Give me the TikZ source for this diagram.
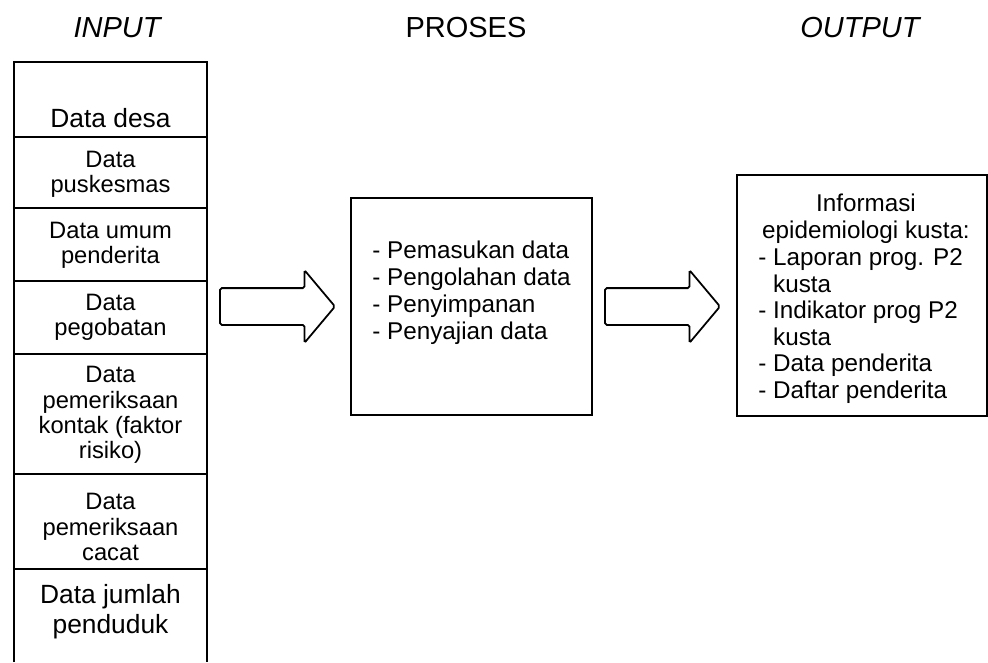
\documentclass[tikz,border=0pt]{standalone}
\usepackage{fontspec}
\setmainfont{Liberation Sans}
\usetikzlibrary{shapes.arrows}
\tikzset{
	ttl/.style = {font=\fontsize{16.5}{19}\selectfont, inner sep=0pt},
	cel/.style = {font=\fontsize{13.5}{14.4}\selectfont, align=center, inner sep=0pt},
	bigcel/.style = {font=\fontsize{15}{17}\selectfont, align=center, inner sep=0pt},
	lst/.style = {font=\fontsize{13.8}{15.3}\selectfont, align=left, inner sep=0pt},
	frame/.style = {draw, line width=1pt, inner sep=0pt},
	blk/.style = {single arrow, draw, line width=1pt, inner sep=0pt,
		text height=0.7cm, text depth=0pt, text width=0pt,
		minimum height=2.3cm, rounded corners=1pt,
		single arrow head extend=0.36cm, single arrow tip angle=100},
}

\begin{document}
\begin{tikzpicture}[line join=miter]
	\useasboundingbox (0,0) rectangle (19.76,-13.24);
	
	%% titles
	\node[ttl] (tin)  at (2.34,-0.56) {\itshape INPUT};
	\node[ttl] (tpro) at (9.32,-0.56) {PROSES};
	\node[ttl] (tout) at (17.2,-0.56) {\itshape OUTPUT};
	
	%% input column (open at the bottom)
	\draw[line width=1pt] (0.28,-13.24) |- (4.14,-1.24) -- (4.14,-13.24);
	\draw[line width=1pt] (0.28,-2.74)  -- (4.14,-2.74);
	\draw[line width=1pt] (0.28,-4.16)  -- (4.14,-4.16);
	\draw[line width=1pt] (0.28,-5.62)  -- (4.14,-5.62);
	\draw[line width=1pt] (0.28,-7.08)  -- (4.14,-7.08);
	\draw[line width=1pt] (0.28,-9.48)  -- (4.14,-9.48);
	\draw[line width=1pt] (0.28,-11.38) -- (4.14,-11.38);
	
	\node[bigcel] (desa)   at (2.21,-2.36)  {Data desa};
	\node[cel]    (pusk)   at (2.21,-3.48)  {Data\\puskesmas};
	\node[cel]    (umum)   at (2.21,-4.90)  {Data umum\\penderita};
	\node[cel]    (obat)   at (2.21,-6.34)  {Data\\pegobatan};
	\node[cel]    (kontak) at (2.21,-8.30)  {Data\\pemeriksaan\\kontak (faktor\\risiko)};
	\node[cel]    (cacat)  at (2.21,-10.54) {Data\\pemeriksaan\\cacat};
	\node[bigcel] (jumlah) at (2.21,-12.24) {Data jumlah\\penduduk};
	
	%% process box
	\node[frame, minimum width=4.82cm, minimum height=4.34cm] (proses) at (9.43,-6.13) {};
	\node[lst] (prolist) at (9.43,-5.85)
	{- Pemasukan data\\- Pengolahan data\\- Penyimpanan\\- Penyajian data};
	
	%% output box
	\node[frame, minimum width=5.0cm, minimum height=4.82cm] (output) at (17.24,-5.91) {};
	\node[lst, align=center, font=\fontsize{13.8}{15.1}\selectfont] (outhead) at (17.32,-4.37)
	{Informasi\\epidemiologi kusta:};
	\node[lst, font=\fontsize{13.8}{15.1}\selectfont, anchor=west] (outlist) at (15.16,-6.52)
	{- Laporan prog. P2\\\hphantom{- }kusta\\- Indikator prog P2\\\hphantom{- }kusta\\- Data penderita\\- Daftar penderita};
	
	%% block arrows
	\node[blk, anchor=tip] (arr1) at ([xshift=-0.28cm]proses.west) {};
	\node[blk, anchor=tip] (arr2) at ([xshift=-0.3cm]output.west |- proses.east) {};
	
\end{tikzpicture}
\end{document}
